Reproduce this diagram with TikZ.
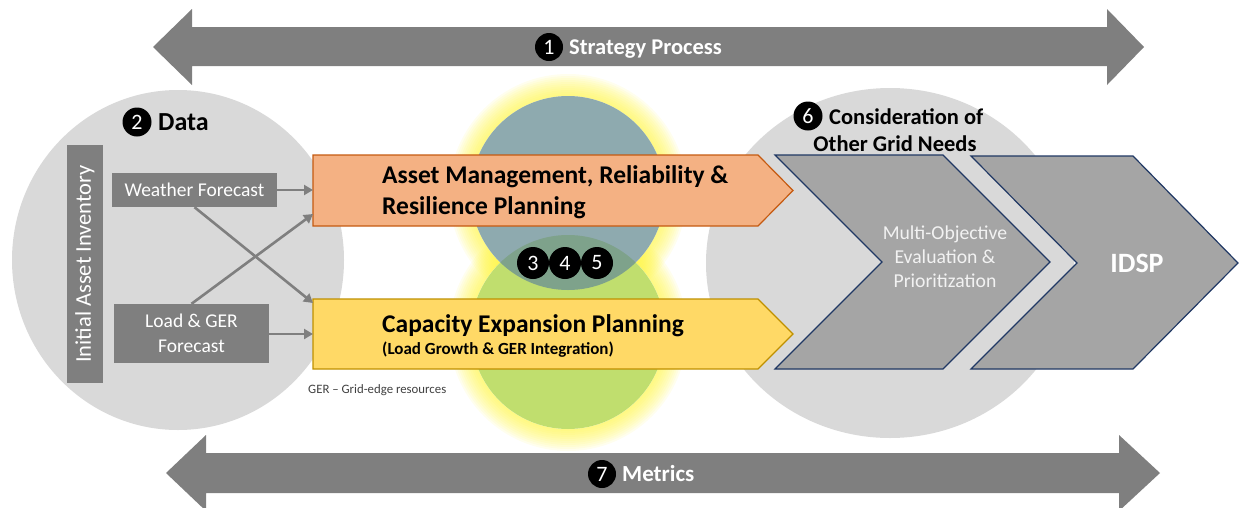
\documentclass[tikz,border=0pt]{standalone}
\usepackage{fontspec}
\setmainfont{Carlito}
\usetikzlibrary{arrows.meta}
\definecolor{arrgrey}{HTML}{7F7F7F}
\definecolor{circgrey}{HTML}{D9D9D9}
\definecolor{orfill}{HTML}{F4B183}
\definecolor{ordraw}{HTML}{C55A11}
\definecolor{yefill}{HTML}{FFD966}
\definecolor{yedraw}{HTML}{BF9000}
\definecolor{chfill}{HTML}{A5A5A5}
\definecolor{chdraw}{HTML}{203864}
\definecolor{bluec}{RGB}{105,142,149}
\definecolor{greenc}{RGB}{192,222,110}
\definecolor{glowc}{RGB}{255,245,60}
\tikzset{
  badge/.style={circle,fill=black,text=white,inner sep=0pt,minimum size=#1,font=\fontsize{22}{22}\selectfont},
  greybox/.style={fill=arrgrey,text=white,inner sep=0pt,align=center},
  conn/.style={draw=arrgrey,line width=2.6pt,-{Triangle[length=9pt,width=10pt]}},
  bigarrow/.style={fill=arrgrey},
  chev/.style={fill=chfill,draw=chdraw,line width=1.2pt,line join=miter},
}
\begin{document}
\begin{tikzpicture}[x=1pt,y=-1pt]
\useasboundingbox (0,0) rectangle (1248,507);
% background ellipses
\fill[circgrey] (178,260) ellipse [x radius=166,y radius=170];
\fill[circgrey] (890,263) ellipse [x radius=184,y radius=175];
% glow
\foreach \d in {2,4,...,22}{
  \fill[glowc,opacity=0.085] (568,193) circle[radius=97+\d];
  \fill[glowc,opacity=0.085] (568,332) circle[radius=97+\d];
}
\fill[white] (568,332) circle[radius=97];
\fill[white] (568,193) circle[radius=97];
\fill[greenc] (568,332) circle[radius=97];
\fill[bluec,opacity=0.75] (568,193) circle[radius=97];
% big arrows
\fill[bigarrow] (153,47) -- (192,9) -- (192,27) -- (1107,27) -- (1107,9) -- (1144,47) -- (1107,85) -- (1107,66) -- (192,66) -- (192,85) -- cycle;
\fill[bigarrow] (166,473) -- (206,435) -- (206,453) -- (1119,453) -- (1119,435) -- (1160,473) -- (1119,511) -- (1119,493) -- (206,493) -- (206,511) -- cycle;
\node[badge=28pt] (b1) at (549,47) {1};
\node[anchor=base west,text=white,font=\bfseries\fontsize{22.5}{22.5}\selectfont,inner sep=0pt] (sp) at (569,54) {Strategy Process};
\node[badge=28pt] (b7) at (602,474) {7};
\node[anchor=base west,text=white,font=\bfseries\fontsize{23}{23}\selectfont,inner sep=0pt] (mt) at (622,481) {Metrics};
% data
\node[badge=29pt] (b2) at (137,122) {2};
\node[anchor=base west,font=\bfseries\fontsize{26}{26}\selectfont,inner sep=0pt] (dt) at (158,130) {Data};
\node[greybox,rotate=90,minimum width=238pt,minimum height=36pt,font=\fontsize{22.5}{22.5}\selectfont] (inv) at (85,264) {Initial Asset Inventory};
\node[greybox,minimum width=165pt,minimum height=34pt,font=\fontsize{19.5}{19.5}\selectfont] (wf) at (194.5,190) {Weather Forecast};
\node[greybox,minimum width=155pt,minimum height=59pt,font=\fontsize{19.5}{25}\selectfont] (ld) at (191.5,333.5) {Load \& GER\\Forecast};
% planning boxes
\draw[fill=orfill,draw=ordraw,line width=1.2pt] (313,155) -- (758,155) -- (793,190.5) -- (758,226) -- (313,226) -- cycle;
\draw[fill=yefill,draw=yedraw,line width=1.2pt] (313,299) -- (758,299) -- (793,334) -- (758,369) -- (313,369) -- cycle;
\coordinate (amA) at (313,190);
\coordinate (amB) at (313,214);
\coordinate (cpA) at (313,303);
\coordinate (cpB) at (313,334);
\node[anchor=base west,font=\bfseries\fontsize{25.5}{25.5}\selectfont,inner sep=0pt] (am1) at (382,183) {Asset Management, Reliability \&};
\node[anchor=base west,font=\bfseries\fontsize{25.5}{25.5}\selectfont,inner sep=0pt] (am2) at (382,214) {Resilience Planning};
\node[anchor=base west,font=\bfseries\fontsize{25.5}{25.5}\selectfont,inner sep=0pt] (cp1) at (382,332) {Capacity Expansion Planning};
\node[anchor=base west,font=\bfseries\fontsize{17}{17}\selectfont,inner sep=0pt] (cp2) at (382,354) {(Load Growth \& GER Integration)};
\node[anchor=base west,font=\fontsize{12.8}{12.8}\selectfont,text=black!75,inner sep=0pt] (ger) at (308,393) {GER -- Grid-edge resources};
% connectors
\draw[conn] (wf.east) -- (amA);
\draw[conn] (wf.south) -- (cpA);
\draw[conn] (ld.north) -- (amB);
\draw[conn] (ld.east |- cpB) -- (cpB);
% badges 3 4 5
\node[badge=32pt] (b3) at (533,263) {3};
\node[badge=32pt] (b4) at (565,263) {4};
\node[badge=32pt] (b5) at (597,263) {5};
% chevrons
\draw[chev] (775,155) -- (943,155) -- (1050,262) -- (943,369) -- (775,369) -- (882,262) -- cycle;
\draw[chev] (971,156) -- (1133,156) -- (1238,263) -- (1133,369) -- (971,369) -- (1077,263) -- cycle;
\node[text=black!5,align=center,font=\fontsize{19.7}{24}\selectfont] (moe) at (945,257) {Multi-Objective\\Evaluation \&\\Prioritization};
\node[text=white,font=\bfseries\fontsize{28}{28}\selectfont] (idsp) at (1137,263) {IDSP};
\node[badge=29pt] (b6) at (808,116) {6};
\node[anchor=base west,font=\bfseries\fontsize{22.5}{22.5}\selectfont,inner sep=0pt] (co1) at (829,124) {Consideration of};
\node[anchor=base,font=\bfseries\fontsize{22.5}{22.5}\selectfont,inner sep=0pt] (co2) at (895,151) {Other Grid Needs};
\end{tikzpicture}
\end{document}
